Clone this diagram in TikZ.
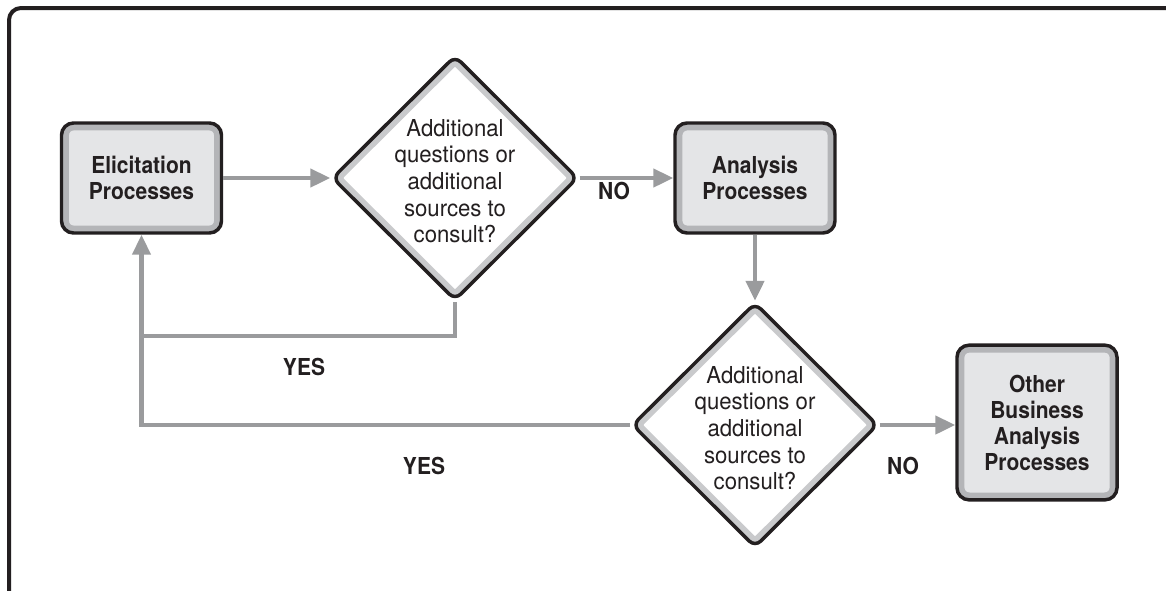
\documentclass[tikz,border=0pt]{standalone}
\usepackage{fontspec}
\setmainfont{TeX Gyre Heros}
\newfontfamily\condfont[FakeStretch=0.9]{TeX Gyre Heros}
\newfontfamily\regfont[FakeStretch=0.95]{TeX Gyre Heros}
\usetikzlibrary{shapes.geometric,arrows.meta}
\definecolor{boxfill}{HTML}{E4E5E7}
\definecolor{boxband}{HTML}{B4B5B8}
\definecolor{diaband}{HTML}{C9CACC}
\definecolor{arrowgray}{HTML}{9A9B9D}
\definecolor{ink}{HTML}{231F20}
\tikzset{
  bfont/.style={font=\condfont\bfseries\fontsize{17.5}{19.5}\selectfont, text=ink},
  rfont/.style={font=\regfont\fontsize{17.5}{20}\selectfont, text=ink},
  procbox/.style={rectangle, rounded corners=9pt, draw=ink, line width=2.6pt,
    fill=boxfill, minimum width=120pt, minimum height=82.5pt, inner sep=0pt,
    align=center, bfont,
    path picture={\draw[boxband, line width=11pt, rounded corners=9pt]
      (path picture bounding box.south west) rectangle (path picture bounding box.north east);}},
  decision/.style={diamond, rounded corners=6pt, draw=ink, line width=2.6pt,
    fill=white, minimum width=184.5pt, minimum height=183.75pt, inner sep=0pt,
    path picture={\draw[diaband, line width=11pt, rounded corners=6pt]
      (path picture bounding box.north) -- (path picture bounding box.east) --
      (path picture bounding box.south) -- (path picture bounding box.west) -- cycle;}},
  dtext/.style={align=center, rfont, inner sep=0pt},
  lbl/.style={bfont, inner sep=0pt},
  conn/.style={draw=arrowgray, line width=3.4pt, -{Triangle[length=15pt,width=13.5pt]}},
  plain/.style={draw=arrowgray, line width=3.4pt},
}
\begin{document}
\begin{tikzpicture}[x=0.75pt, y=-0.75pt]
\useasboundingbox (0,0) rectangle (1166,590);
\begin{scope}
\clip (0,0) rectangle (1166,590);
\draw[ink, line width=3pt, rounded corners=9pt] (9,8) rectangle (1200,620);
\end{scope}

\node[procbox] (elic) at (141.5,178) {Elicitation\\Processes};
\node[decision] (d1) at (455,178) {};
\node[dtext] (d1t) at (455,181) {Additional\\questions or\\additional\\sources to\\consult?};
\node[procbox] (anal) at (755,178) {Analysis\\Processes};
\node[decision] (d2) at (755,425) {};
\node[dtext] (d2t) at (755,428) {Additional\\questions or\\additional\\sources to\\consult?};
\node[procbox, minimum height=116pt] (other) at (1037,422.5) {Other\\Business\\Analysis\\Processes};

\coordinate (j1) at (141.5,336);

\draw[conn] (elic.east) -- (d1.west);
\draw[conn] (d1.east) -- (anal.west);
\draw[conn] (anal.south) -- (d2.north);
\draw[conn] (d2.east) -- (d2.east -| other.west);
\draw[plain] (d1.south) |- (j1);
\draw[conn] (d2.west) -| (elic.south);

\node[lbl] (no1) at (614,191) {NO};
\node[lbl] (yes1) at (304,367) {YES};
\node[lbl] (yes2) at (424,466) {YES};
\node[lbl] (no2) at (903,466) {NO};
\end{tikzpicture}
\end{document}
